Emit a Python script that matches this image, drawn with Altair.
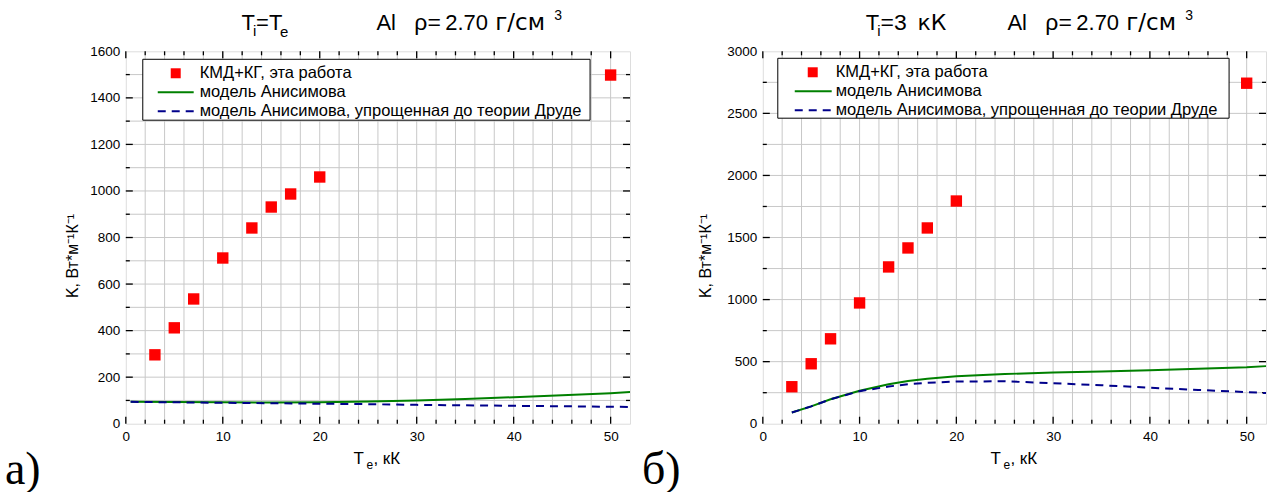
import altair as alt
import pandas as pd

# ---------------- data ----------------
t_pts = [3, 5, 7, 10, 13, 15, 17, 20, 50]
k_pts_a = [296, 412, 536, 712, 841, 931, 987, 1060, 1498]
k_pts_b = [298, 483, 684, 973, 1263, 1416, 1577, 1794, 2743]

t_green_a = [0.5, 5, 10, 15, 20, 25, 30, 35, 40, 45, 50, 52]
k_green_a = [94, 93, 92, 91, 92, 95, 100, 106, 114, 122, 131, 136]
t_blue_a = [0.5, 5, 10, 15, 20, 25, 30, 35, 40, 45, 50, 52]
k_blue_a = [94, 92, 90, 88, 86, 84, 81, 79, 77, 75, 73, 72]

t_green_b = [3, 5, 7, 10, 13, 15, 17, 20, 25, 30, 35, 40, 45, 50, 52]
k_green_b = [90, 140, 197, 265, 318, 345, 362, 383, 400, 413, 420, 430, 443, 455, 464]
t_blue_b = [3, 5, 7, 10, 13, 15, 17, 20, 25, 30, 35, 40, 45, 50, 52]
k_blue_b = [90, 140, 197, 262, 300, 318, 330, 340, 342, 326, 310, 290, 272, 255, 247]

x_labels = [0, 10, 20, 30, 40, 50]
y_labels_a = [0, 200, 400, 600, 800, 1000, 1200, 1400, 1600]
y_labels_b = [0, 500, 1000, 1500, 2000, 2500, 3000]

legend_texts = ["КМД+КГ, эта работа", "модель Анисимова",
                "модель Анисимова, упрощенная до теории Друде"]

H = 373
FONT = "Liberation Sans"
WIDE = "DejaVu Sans"


def one():
    return pd.DataFrame({"a": [0]})


def txt(text, x, y, size, align="left", baseline="alphabetic", angle=0, font=FONT):
    kw = {}
    if angle:
        kw["angle"] = angle
    return alt.Chart(one()).mark_text(
        fontSize=size, font=font, align=align, baseline=baseline, color="black", **kw
    ).encode(x=alt.value(x), y=alt.value(y), text=alt.value(text))


def panel(W, ymax, ystep_minor, y_labels, kp, tg, kg, tb, kb, title_parts, panel_label,
          ytitle_x, leg, frame):
    xs = alt.Scale(domain=[0, 52], nice=False, zero=False)
    ys = alt.Scale(domain=[0, ymax], nice=False, zero=True)
    xaxis = alt.Axis(values=x_labels, format="d", tickSize=0, domain=False, grid=False,
                     labelFontSize=13.5, labelFont=FONT, labelColor="black", labelPadding=6,
                     title=None, labelFlush=False)
    yaxis = alt.Axis(values=y_labels, format="d", tickSize=0, domain=False, grid=False,
                     labelFontSize=13.5, labelFont=FONT, labelColor="black", labelPadding=6,
                     title=None, labelFlush=False)
    XE = alt.X("x:Q", scale=xs, axis=xaxis)
    YE = alt.Y("y:Q", scale=ys, axis=yaxis)

    gx = pd.DataFrame({"x": list(range(2, 51, 2))})
    gy = pd.DataFrame({"y": list(range(ystep_minor, ymax, ystep_minor))})
    xmaj = pd.DataFrame({"x": x_labels})
    xmin = pd.DataFrame({"x": [v for v in range(2, 52, 2) if v % 10]})
    ymaj = pd.DataFrame({"y": [v for v in y_labels if 0 < v < ymax]})
    ymin = pd.DataFrame({"y": [v for v in range(ystep_minor, ymax, ystep_minor) if v not in y_labels]})

    fx0, fx1, fy0, fy1 = frame
    layers = [
        # invisible canvas anchor (fixes the page layout)
        alt.Chart(one()).mark_rect(opacity=0).encode(
            x=alt.value(fx0), x2=alt.value(fx1), y=alt.value(fy0), y2=alt.value(fy1)),
    ]
    grid_c = "#c8c8c8"
    layers += [
        alt.Chart(gx).mark_rule(color=grid_c, strokeWidth=1).encode(x=XE),
        alt.Chart(gy).mark_rule(color=grid_c, strokeWidth=1).encode(y=YE),
    ]
    # inner ticks
    for df, L in ((xmaj, 7), (xmin, 4)):
        layers.append(alt.Chart(df).mark_rule(color="black", strokeWidth=1.3).encode(
            x=XE, y=alt.value(H), y2=alt.value(H - L)))
        layers.append(alt.Chart(df).mark_rule(color="black", strokeWidth=1.3).encode(
            x=XE, y=alt.value(0), y2=alt.value(L)))
    for df, L in ((ymaj, 7), (ymin, 4)):
        layers.append(alt.Chart(df).mark_rule(color="black", strokeWidth=1.3).encode(
            y=YE, x=alt.value(0), x2=alt.value(L)))
        layers.append(alt.Chart(df).mark_rule(color="black", strokeWidth=1.3).encode(
            y=YE, x=alt.value(W), x2=alt.value(W - L)))

    green = pd.DataFrame({"x": tg, "y": kg})
    blue = pd.DataFrame({"x": tb, "y": kb})
    pts = pd.DataFrame({"x": t_pts, "y": kp})
    layers += [
        alt.Chart(green).mark_line(color="#008000", strokeWidth=2).encode(x=XE, y=YE),
        alt.Chart(blue).mark_line(color="#00008b", strokeWidth=2, strokeDash=[8, 6]).encode(x=XE, y=YE),
        alt.Chart(pts).mark_square(color="#ff0000", size=130, opacity=1).encode(x=XE, y=YE),
    ]

    # legend
    lx0, lx1, ly0, ly1, sx, l0, l1, tx = leg
    rows = [ly0 + 14, ly0 + 33, ly0 + 52]
    layers += [
        alt.Chart(one()).mark_rect(fill="white", stroke="black", strokeWidth=1).encode(
            x=alt.value(lx0), x2=alt.value(lx1), y=alt.value(ly0), y2=alt.value(ly1)),
        alt.Chart(one()).mark_square(color="#ff0000", size=100, opacity=1).encode(
            x=alt.value(sx), y=alt.value(rows[0])),
        alt.Chart(one()).mark_rule(color="#008000", strokeWidth=2).encode(
            x=alt.value(l0), x2=alt.value(l1), y=alt.value(rows[1])),
        alt.Chart(one()).mark_rule(color="#00008b", strokeWidth=2, strokeDash=[8, 6]).encode(
            x=alt.value(l0), x2=alt.value(l1), y=alt.value(rows[2])),
    ]
    for r, t in zip(rows, legend_texts):
        layers.append(txt(t, tx, r, 16.5, baseline="middle"))

    # titles
    for (t, x, y, s, f) in title_parts:
        layers.append(txt(t, x, y, s, font=f))
    # axis titles
    layers += [
        txt("T", 228, H + 40, 17),
        txt("e", 241, H + 45, 12),
        txt(", кК", 248, H + 40, 17),
        txt("K, Вт*м⁻¹К⁻¹", ytitle_x, 205, 16, align="center", baseline="middle", angle=270),
        txt(panel_label, -121, H + 60, 46, font="Liberation Serif"),
    ]
    return alt.layer(*layers).properties(width=W, height=H)


title_a = [("T", 116, -21, 22, FONT), ("i", 127.5, -15, 15, FONT), ("=T", 130.5, -21, 22, FONT),
           ("e", 154.5, -14, 15, FONT), ("Al", 251, -21, 22, FONT), ("ρ=", 289, -21, 23, FONT),
           ("2.70", 320, -21, 22, FONT), ("г/см", 370, -21, 23, WIDE), ("3", 429, -31, 14, FONT)]
title_b = [("T", 103, -21, 22, FONT), ("i", 114.5, -15, 15, FONT), ("=3", 118, -21, 23, FONT),
           ("кК", 155, -21, 22, WIDE), ("Al", 245, -21, 22, FONT), ("ρ=", 283, -21, 23, FONT),
           ("2.70", 314, -21, 22, FONT), ("г/см", 364, -21, 23, WIDE), ("3", 423, -31, 14, FONT)]

left = panel(505, 1600, 100, y_labels_a, k_pts_a, t_green_a, k_green_a, t_blue_a, k_blue_a,
             title_a, "а)", -53, (17, 465, 8, 69, 50, 32, 68, 74), (-125, 505, -50, H + 69))
right = panel(504, 3000, 250, y_labels_b, k_pts_b, t_green_b, k_green_b, t_blue_b, k_blue_b,
              title_b, "б)", -57, (15, 467, 7, 67, 50, 32, 69, 73), (0, 504 + 13, -50, H + 69))

chart = alt.hconcat(left, right, spacing=133, bounds="flush").properties(
    padding=0,
).configure_view(stroke="black", strokeWidth=1.5).configure(background="white")

chart.save("out.html", embed_options={"renderer": "svg", "actions": False})
